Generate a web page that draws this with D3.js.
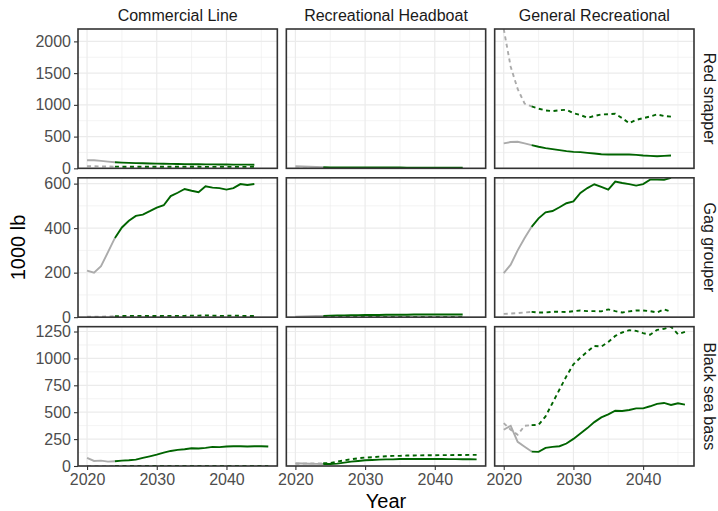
<!DOCTYPE html>
<html>
<head>
<meta charset="utf-8">
<script src="https://cdn.jsdelivr.net/npm/d3@7"></script>
<style>
  html, body { margin: 0; padding: 0; background: #ffffff; }
  svg { display: block; font-family: "Liberation Sans", Arial, Helvetica, sans-serif; }
</style>
</head>
<body>
<svg id="chart" width="718" height="511"></svg>
<script>
// ---------------- DATA ----------------
const fleets = ["Commercial Line", "Recreational Headboat", "General Recreational"];
const species = ["Red snapper", "Gag grouper", "Black sea bass"];

const yearsShort = [2020,2021,2022,2023,2024,2025,2026,2027,2028,2029,2030,2031,2032,2033,2034,2035,2036,2037,2038,2039,2040,2041,2042,2043,2044];
const yearsLong  = [2020,2021,2022,2023,2024,2025,2026,2027,2028,2029,2030,2031,2032,2033,2034,2035,2036,2037,2038,2039,2040,2041,2042,2043,2044,2045,2046];
const lastHistoricalYear = 2024;

const xTicks = [2020, 2030, 2040];
const xMinorTicks = [2025, 2035, 2045];
const yTicksRedSnapper = [0, 500, 1000, 1500, 2000];
const yTicksGag = [0, 200, 400, 600];
const yTicksBsb = [0, 250, 500, 750, 1000, 1250];

// Red snapper (solid = landings, dashed = discards)
const rsCommSolid = [127,127,117,105,95,90,86,82,79,76,74,72,70,68,66,65,64,63,62,61,60,59,58,58,57];
const rsCommDashed = [32,32,30,28,27,26,26,25,25,25,25,24,24,24,24,24,24,23,23,23,23,23,23,23,23];
const rsHbSolid = [32,28,24,20,16,15,14,14,13,13,13,12,12,12,12,12,11,11,11,11,11,11,11,10,10];
const rsHbDashed = [0,0,0,0,0,0,0,0,0,0,0,0,0,0,0,0,0,0,0,0,0,0,0,0,0];
const rsGenSolid = [393,414,419,393,366,340,318,303,287,271,260,255,244,234,223,218,218,218,218,212,202,196,191,196,202];
const rsGenDashed = [2195,1600,1250,1020,975,940,912,901,915,923,869,840,796,825,849,852,860,790,712,764,790,817,849,825,815];

// Gag grouper
const gagCommSolid = [209,200,229,292,356,403,433,455,461,476,492,503,544,559,576,568,561,588,582,580,573,580,598,594,598];
const gagCommDashed = [2,2,2,3,4,5,6,6,6,5,5,6,6,6,6,7,7,8,7,6,6,7,6,5,5];
const gagHbSolid = [2,3,4,5,6,7,8,8,9,9,10,10,10,11,11,11,11,12,12,12,12,12,12,12,12];
const gagHbDashed = [0,0,0,0,0,0,0,0,0,0,0,0,0,0,0,0,0,0,0,0,0,0,0,0,0];
const gagGenSolid = [198,236,300,356,406,444,471,477,494,512,520,558,580,597,585,573,609,603,598,591,598,618,618,617,626];
const gagGenDashed = [15,16,18,21,24,21,21,24,24,23,27,30,27,27,26,35,27,21,26,30,30,27,21,35,24];

// Black sea bass
const bsbCommSolid = [75,47,50,41,44,50,53,59,75,90,106,125,140,150,156,165,162,168,178,175,181,184,184,181,184,184,181];
const bsbCommDashed = [0,0,0,0,0,0,0,0,0,0,0,0,0,0,0,0,0,0,0,0,0,0,0,0,0,0,0];
const bsbHbSolid = [25,23,21,20,18,18,22,31,41,47,53,56,59,62,62,65,65,65,65,65,65,65,64,64,63,63,62];
const bsbHbDashed = [20,22,25,24,25,28,41,53,62,72,78,81,87,90,94,94,97,98,99,100,100,101,101,102,102,103,103];
const bsbGenSolid = [337,374,224,178,134,131,168,178,184,209,252,302,352,408,452,480,514,511,521,536,536,555,577,586,567,583,570];
const bsbGenDashed = [399,337,290,374,380,383,461,586,711,835,945,1007,1063,1116,1110,1153,1209,1241,1262,1256,1235,1220,1265,1275,1295,1225,1247];

// Table built from the arrays above
const rows = [
  { species: species[0], years: yearsShort, ticks: yTicksRedSnapper,
    panels: [[rsCommSolid, rsCommDashed], [rsHbSolid, rsHbDashed], [rsGenSolid, rsGenDashed]] },
  { species: species[1], years: yearsShort, ticks: yTicksGag,
    panels: [[gagCommSolid, gagCommDashed], [gagHbSolid, gagHbDashed], [gagGenSolid, gagGenDashed]] },
  { species: species[2], years: yearsLong, ticks: yTicksBsb,
    panels: [[bsbCommSolid, bsbCommDashed], [bsbHbSolid, bsbHbDashed], [bsbGenSolid, bsbGenDashed]] }
];

// ---------------- LAYOUT ----------------
const svg = d3.select("#chart");
const plotLeft = 78, plotRight = 694, plotTop = 29, plotBottom = 466;
const gapX = 9, gapY = 9.5;
const panelW = (plotRight - plotLeft - 2 * gapX) / 3;
const panelH = (plotBottom - plotTop - 2 * gapY) / 3;

const histColor = "#ababab";
const projColor = "#006400";
const gridColor = "#ebebeb";
const borderColor = "#333333";

const x = d3.scaleLinear()
  .domain([2020 - 26 * 0.05, 2046 + 26 * 0.05])
  .range([0, panelW]);

const defs = svg.append("defs");

rows.forEach((row, ri) => {
  const py = plotTop + ri * (panelH + gapY);
  const rowMax = d3.max(row.panels.flat(2));
  const y = d3.scaleLinear().domain([0, rowMax]).range([panelH, 0]);

  const step = row.ticks[1] - row.ticks[0];
  const yMinor = row.ticks.map(t => t + step / 2).filter(v => v <= rowMax);

  row.panels.forEach((series, ci) => {
    const px = plotLeft + ci * (panelW + gapX);
    const g = svg.append("g").attr("transform", `translate(${px},${py})`);

    const clipId = `clip-${ri}-${ci}`;
    defs.append("clipPath").attr("id", clipId)
      .append("rect").attr("x", 0).attr("y", 0).attr("width", panelW).attr("height", panelH);

    // grid
    const grid = g.append("g");
    grid.selectAll(".vminor").data(xMinorTicks).join("line")
      .attr("x1", d => x(d)).attr("x2", d => x(d)).attr("y1", 0).attr("y2", panelH)
      .attr("stroke", gridColor).attr("stroke-width", 0.6);
    grid.selectAll(".hminor").data(yMinor).join("line")
      .attr("x1", 0).attr("x2", panelW).attr("y1", d => y(d)).attr("y2", d => y(d))
      .attr("stroke", gridColor).attr("stroke-width", 0.6);
    grid.selectAll(".vmajor").data(xTicks).join("line")
      .attr("x1", d => x(d)).attr("x2", d => x(d)).attr("y1", 0).attr("y2", panelH)
      .attr("stroke", gridColor).attr("stroke-width", 1.2);
    grid.selectAll(".hmajor").data(row.ticks).join("line")
      .attr("x1", 0).attr("x2", panelW).attr("y1", d => y(d)).attr("y2", d => y(d))
      .attr("stroke", gridColor).attr("stroke-width", 1.2);

    // lines
    const lg = g.append("g").attr("clip-path", `url(#${clipId})`);
    const line = d3.line().x(d => x(d[0])).y(d => y(d[1]));
    series.forEach((vals, si) => {
      const pts = row.years.map((yr, i) => [yr, vals[i]]);
      const hist = pts.filter(p => p[0] <= lastHistoricalYear);
      const proj = pts.filter(p => p[0] >= lastHistoricalYear);
      const dash = si === 1 ? "4,3.5" : null;
      lg.append("path").datum(hist).attr("d", line)
        .attr("fill", "none").attr("stroke", histColor).attr("stroke-width", 1.9)
        .attr("stroke-dasharray", dash);
      lg.append("path").datum(proj).attr("d", line)
        .attr("fill", "none").attr("stroke", projColor).attr("stroke-width", 1.9)
        .attr("stroke-dasharray", dash);
    });

    // border
    g.append("rect").attr("x", 0).attr("y", 0).attr("width", panelW).attr("height", panelH)
      .attr("fill", "none").attr("stroke", borderColor).attr("stroke-width", 1.6);

    // y axis (first column)
    if (ci === 0) {
      const ay = g.append("g").call(d3.axisLeft(y).tickValues(row.ticks).tickSize(4).tickPadding(3).tickFormat(d3.format("d")));
      ay.select(".domain").remove();
      ay.selectAll("line").attr("stroke", borderColor).attr("stroke-width", 1.1);
      ay.selectAll("text").attr("fill", "#4d4d4d").style("font-size", "16px")
        .style("font-family", "'Liberation Sans', Arial, sans-serif");
    }
    // x axis (bottom row)
    if (ri === rows.length - 1) {
      const ax = g.append("g").attr("transform", `translate(0,${panelH})`)
        .call(d3.axisBottom(x).tickValues(xTicks).tickSize(4).tickPadding(4).tickFormat(d3.format("d")));
      ax.select(".domain").remove();
      ax.selectAll("line").attr("stroke", borderColor).attr("stroke-width", 1.1);
      ax.selectAll("text").attr("fill", "#4d4d4d").style("font-size", "16px")
        .style("font-family", "'Liberation Sans', Arial, sans-serif");
    }
    // top strips
    if (ri === 0) {
      svg.append("text").attr("x", px + panelW / 2).attr("y", 21)
        .attr("text-anchor", "middle").attr("fill", "#1a1a1a").style("font-size", "16px")
        .text(fleets[ci]);
    }
  });

  // right strip
  const cy = py + panelH / 2;
  svg.append("text").attr("transform", `translate(704,${cy}) rotate(90)`)
    .attr("text-anchor", "middle").attr("fill", "#1a1a1a").style("font-size", "16px")
    .text(row.species);
});

// axis titles
svg.append("text").attr("transform", `translate(25,${(plotTop + plotBottom) / 2}) rotate(-90)`)
  .attr("text-anchor", "middle").attr("fill", "#000").style("font-size", "20px").text("1000 lb");
svg.append("text").attr("x", (plotLeft + plotRight) / 2).attr("y", 508)
  .attr("text-anchor", "middle").attr("fill", "#000").style("font-size", "20px").text("Year");
</script>
</body>
</html>
